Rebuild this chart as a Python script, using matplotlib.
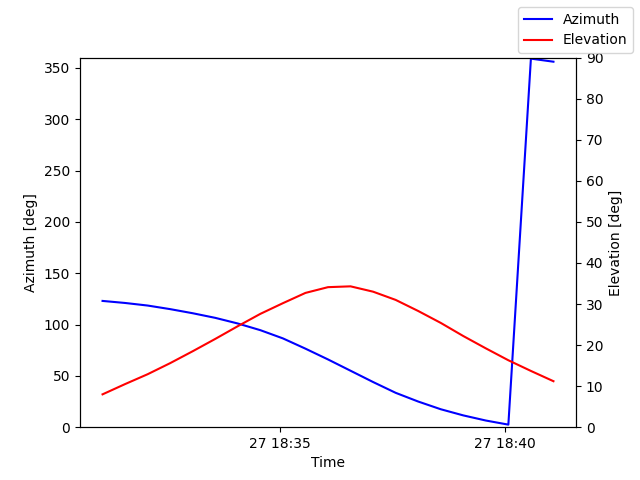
import datetime as dt
import matplotlib
matplotlib.use("Agg")
from matplotlib import pyplot as plt

start = dt.datetime(2024, 1, 27, 18, 31, 4)
times = [start + dt.timedelta(seconds=30 * i) for i in range(21)]

azimuth = [123, 121, 118.5, 115, 111, 106.5, 101, 94.5, 86.5, 76.5, 66,
           55, 44, 33.5, 25, 17.5, 11.5, 6.5, 2.5, 359, 356]
elevation = [8.0, 10.5, 12.9, 15.6, 18.5, 21.5, 24.6, 27.6, 30.2, 32.7, 34.1,
             34.3, 33.0, 31.0, 28.3, 25.4, 22.2, 19.2, 16.3, 13.7, 11.2]

fig, ax1 = plt.subplots(figsize=(6.4, 4.8), dpi=100)
ax1.plot(times, azimuth, color="blue", label="Azimuth")
ax1.set_ylim(0, 360)
ax1.set_xlabel("Time")
ax1.set_ylabel("Azimuth [deg]")

ax2 = ax1.twinx()
ax2.plot(times, elevation, color="red", label="Elevation")
ax2.set_ylim(0, 90)
ax2.set_ylabel("Elevation [deg]")

fig.legend()
fig.savefig("out.png")
